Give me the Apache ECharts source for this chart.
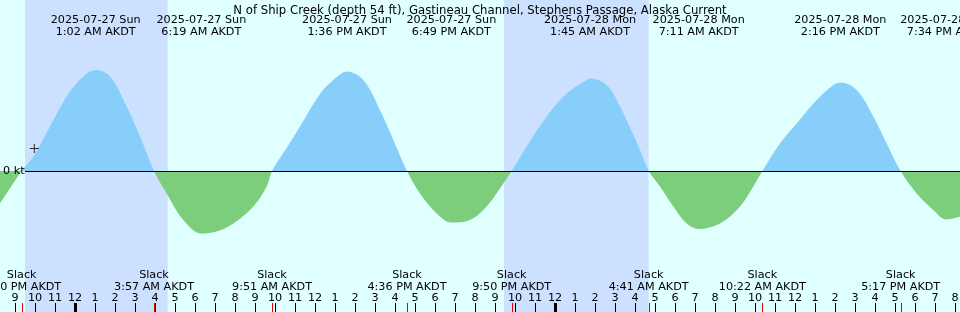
<!DOCTYPE html>
<html><head><meta charset="utf-8">
<script src="https://cdn.jsdelivr.net/npm/echarts@6/dist/echarts.min.js"></script>
<style>html,body{margin:0;padding:0;background:#e0ffff}#c{width:960px;height:312px}</style>
</head><body><div id="c"></div>
<script>
const titleText = 'N of Ship Creek (depth 54 ft), Gastineau Channel, Stephens Passage, Alaska Current';
const curveTimes = [
 '2025-07-26 20:15','2025-07-26 21:20','2025-07-26 21:55','2025-07-26 22:45','2025-07-26 23:35',
 '2025-07-27 00:25','2025-07-27 01:02','2025-07-27 01:45','2025-07-27 02:35','2025-07-27 03:15','2025-07-27 03:57',
 '2025-07-27 04:35','2025-07-27 05:25','2025-07-27 06:19','2025-07-27 07:05','2025-07-27 07:55','2025-07-27 08:55',
 '2025-07-27 09:35','2025-07-27 09:51','2025-07-27 10:35','2025-07-27 11:15','2025-07-27 12:15','2025-07-27 12:55','2025-07-27 13:36',
 '2025-07-27 14:25','2025-07-27 15:15','2025-07-27 15:55','2025-07-27 16:36','2025-07-27 17:15','2025-07-27 18:05',
 '2025-07-27 18:49','2025-07-27 19:45','2025-07-27 20:35','2025-07-27 21:25','2025-07-27 21:50','2025-07-27 22:35',
 '2025-07-27 23:35','2025-07-28 00:35','2025-07-28 01:35','2025-07-28 01:45','2025-07-28 02:35','2025-07-28 03:15',
 '2025-07-28 04:15','2025-07-28 04:41','2025-07-28 05:15','2025-07-28 05:55','2025-07-28 06:35','2025-07-28 07:11',
 '2025-07-28 08:15','2025-07-28 09:15','2025-07-28 09:55','2025-07-28 10:22','2025-07-28 11:15','2025-07-28 12:05',
 '2025-07-28 13:05','2025-07-28 13:55','2025-07-28 14:16','2025-07-28 15:05','2025-07-28 15:55','2025-07-28 16:35',
 '2025-07-28 17:17','2025-07-28 18:05','2025-07-28 18:55','2025-07-28 19:34','2025-07-28 20:15'
];
const curveKt = [
 -0.65, 0, 0.29, 0.89, 1.49,
 1.89, 2.02, 1.89, 1.29, 0.69, 0,
 -0.45, -0.98, -1.25, -1.21, -1.05, -0.71,
 -0.31, 0, 0.46, 0.89, 1.54, 1.82, 1.99,
 1.82, 1.22, 0.62, 0, -0.45, -0.85,
 -1.03, -0.98, -0.71, -0.25, 0, 0.49,
 1.09, 1.55, 1.82, 1.85, 1.72, 1.29,
 0.42, 0, -0.31, -0.71, -1.05, -1.16,
 -1.05, -0.71, -0.31, 0, 0.55, 0.95,
 1.42, 1.72, 1.77, 1.62, 1.09, 0.55,
 0, -0.45, -0.78, -0.97, -0.91
];
const peakTimes = ['2025-07-27 01:02','2025-07-27 06:19','2025-07-27 13:36','2025-07-27 18:49',
                   '2025-07-28 01:45','2025-07-28 07:11','2025-07-28 14:16','2025-07-28 19:34'];
const slackTimes = ['2025-07-26 21:20','2025-07-27 03:57','2025-07-27 09:51','2025-07-27 16:36','2025-07-27 21:50',
                    '2025-07-28 04:41','2025-07-28 10:22','2025-07-28 17:17','2025-07-28 22:25'];
const nightStarts = ['2025-07-26 21:30','2025-07-27 21:27'];
const nightEnds   = ['2025-07-27 04:38','2025-07-28 04:41'];
const midnights = ['2025-07-27 00:00','2025-07-28 00:00'];
const crossTimes = ['2025-07-26 21:58'];
const crossKt = [0.45];

const FONT = '"DejaVu Sans", sans-serif';
const days = ['Sun','Mon','Tue','Wed','Thu','Fri','Sat'];
function toH(s){ const [d,t]=s.split(' '); const [Y,M,D]=d.split('-').map(Number); const [hh,mm]=t.split(':').map(Number);
  return (Date.UTC(Y,M-1,D)-Date.UTC(2025,6,27))/3600000 + hh + mm/60; }
function dateLabel(s){ const d=s.split(' ')[0]; const [Y,M,D]=d.split('-').map(Number); return d+' '+days[new Date(Date.UTC(Y,M-1,D)).getUTCDay()]; }
function timeLabel(s){ const [hh,mm]=s.split(' ')[1].split(':').map(Number); const h12=(hh%12)||12; return h12+':'+String(mm).padStart(2,'0')+' '+(hh<12?'AM':'PM')+' AKDT'; }

const chart = echarts.init(document.getElementById('c'), null, {renderer:'canvas'});
chart.setOption({
  animation:false,
  backgroundColor:'#e0ffff',
  title:{text:titleText,left:'center',top:0,textStyle:{fontFamily:FONT,fontSize:11.7,fontWeight:'normal',color:'#000'}},
  grid:{left:-5,right:-15,top:0,bottom:0,containLabel:false,outerBoundsMode:'none'},
  xAxis:{type:'value',min:-4,max:45,interval:1,z:10,
    axisLine:{show:false,onZero:false},splitLine:{show:false},
    axisTick:{inside:true,length:9,lineStyle:{color:'#000',width:1}},
    axisLabel:{inside:true,margin:8,fontFamily:FONT,fontSize:11.2,color:'#000',
      formatter:v=>{const h=((Math.round(v)%24)+24)%24; return String((h%12)||12);} }},
  yAxis:{type:'value',min:-2.82,max:3.42,z:10,axisLine:{show:false},axisTick:{show:false},splitLine:{show:false},
    axisLabel:{inside:true,margin:8,fontFamily:FONT,fontSize:11.2,color:'#000',formatter:v=>v===0?'0 kt':''}},
  visualMap:{type:'piecewise',show:false,seriesIndex:0,dimension:1,
    pieces:[{gt:0,lte:10,color:'#87cefa'},{gte:-10,lte:0,color:'#7ccd7c'}]},
  series:[
    {type:'line',data:curveTimes.map((t,i)=>[toH(t),curveKt[i]]),smooth:0.35,showSymbol:false,silent:true,
     lineStyle:{width:0},areaStyle:{opacity:1},z:3,
     markArea:{silent:true,itemStyle:{color:'#cce0ff'},data:nightStarts.map((s,i)=>[{xAxis:toH(s)},{xAxis:toH(nightEnds[i])}])},
     markLine:{silent:true,symbol:'none',label:{show:false},lineStyle:{color:'#000',width:1,type:'solid'},
       data:[[{x:25,yAxis:0},{x:960,yAxis:0}]]}},
    {type:'custom',z:11,silent:true,data:[...slackTimes.map(t=>[toH(t),0]),...midnights.map(t=>[toH(t),1])],
     renderItem:(params,api)=>{const x=api.coord([api.value(0),0])[0]; const H=api.getHeight(); const k=api.value(1);
       const w=k?3:1; const xr=Math.round(x)-(k?1:0);
       return {type:'rect',shape:{x:xr,y:H-9,width:w,height:9},style:{fill:k?'#000':'#e00000'}};}},
    {type:'custom',z:11,silent:true,data:peakTimes.map(t=>[toH(t)]),
     renderItem:(params,api)=>{const x=api.coord([api.value(0),0])[0]; const s=peakTimes[params.dataIndex];
       return {type:'text',x:x,y:26,style:{text:dateLabel(s)+'\n'+timeLabel(s),font:'11.2px '+FONT,fill:'#000',align:'center',verticalAlign:'middle',lineHeight:12.5}};}},
    {type:'custom',z:11,silent:true,data:slackTimes.map(t=>[toH(t)]),
     renderItem:(params,api)=>{const x=api.coord([api.value(0),0])[0]; const s=slackTimes[params.dataIndex];
       return {type:'text',x:x,y:281,style:{text:'Slack\n'+timeLabel(s),font:'11.2px '+FONT,fill:'#000',align:'center',verticalAlign:'middle',lineHeight:12}};}},
    {type:'scatter',z:12,silent:true,data:crossTimes.map((t,i)=>[toH(t),crossKt[i]]),
     symbol:'path://M4,0h1v4h4v1h-4v4h-1v-4h-4v-1h4z',symbolSize:9,itemStyle:{color:'#000'}}
  ]
});
</script></body></html>
